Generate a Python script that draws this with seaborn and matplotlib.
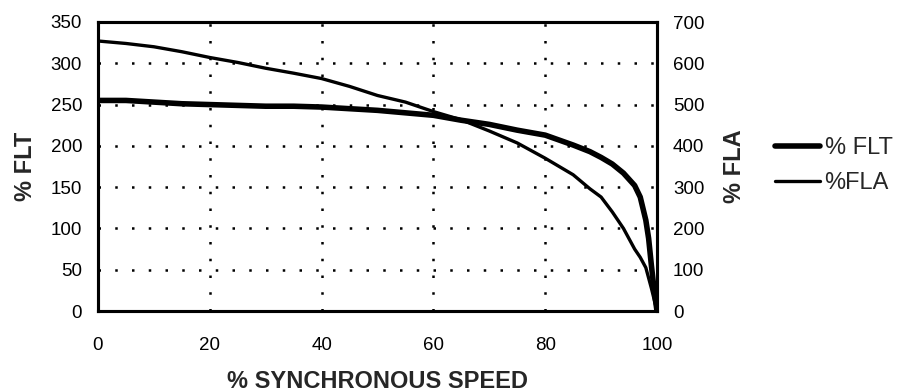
import matplotlib
matplotlib.use("Agg")
from matplotlib import pyplot as plt
from matplotlib.lines import Line2D
import seaborn as sns
import pandas as pd

# % synchronous speed
speed_flt = [0, 5, 10, 15, 20, 25, 30, 35, 40, 45, 50, 55, 60, 65, 70, 75, 80,
             85, 88, 90, 92, 94, 96, 97, 98, 98.5, 99, 99.5, 100]
flt = [255, 255, 253, 251, 250, 249, 248, 248, 247, 245, 243, 240, 237, 231, 226,
       219, 213, 201, 193, 186, 178, 167, 152, 138, 110, 88, 55, 25, 0]

speed_fla = [0, 5, 10, 15, 20, 25, 30, 35, 40, 45, 50, 55, 60, 65, 70, 75, 80,
             85, 88, 90, 92, 94, 96, 97, 98, 99, 100]
fla = [654, 648, 640, 628, 614, 602, 588, 576, 563, 544, 522, 506, 483, 463, 436,
       407, 370, 330, 296, 276, 240, 200, 150, 130, 105, 55, 0]

xticks = [0, 20, 40, 60, 80, 100]
left_ticks = [0, 50, 100, 150, 200, 250, 300, 350]
right_ticks = [0, 100, 200, 300, 400, 500, 600, 700]

sns.set_style("white")
plt.rcParams["font.family"] = ["Liberation Sans", "DejaVu Sans"]

df_flt = pd.DataFrame({"speed": speed_flt, "val": flt})
df_fla = pd.DataFrame({"speed": speed_fla, "val": fla})

fig = plt.figure(figsize=(9.03, 3.92), dpi=100)
ax = fig.add_axes([98 / 903, 1 - 311 / 392, 559 / 903, 289 / 392])
ax2 = ax.twinx()

sns.lineplot(data=df_flt, x="speed", y="val", ax=ax, color="black", lw=4,
             solid_capstyle="round", solid_joinstyle="round", zorder=5)
sns.lineplot(data=df_fla, x="speed", y="val", ax=ax2, color="black", lw=2.4,
             solid_capstyle="round", solid_joinstyle="round", zorder=5)

ax.set_xlim(0, 100)
ax.set_ylim(0, 350)
ax2.set_ylim(0, 700)
ax.set_xticks(xticks)
ax.set_yticks(left_ticks)
ax2.set_yticks(right_ticks)

grid_style = dict(color="black", lw=1.8, linestyle=(0, (1, 5.7)))
for xv in xticks[1:-1]:
    ax.axvline(xv, zorder=1, **grid_style)
for yv in left_ticks[1:-1]:
    ax.axhline(yv, zorder=1, **grid_style)

for a in (ax, ax2):
    for s in a.spines.values():
        s.set_color("black")
        s.set_linewidth(2.2)
ax.tick_params(axis="x", length=0, pad=19, labelsize=13.5, colors="black")
ax.tick_params(axis="y", length=0, pad=11.5, labelsize=13.5, colors="black")
ax2.tick_params(axis="y", length=0, pad=11.5, labelsize=13.5, colors="black")

ax.set_xlabel("% SYNCHRONOUS SPEED", fontsize=17, fontweight="bold", labelpad=11)
ax.set_ylabel("% FLT", fontsize=17, fontweight="bold", labelpad=9.5)
ax2.set_ylabel("% FLA", fontsize=17, fontweight="bold", labelpad=13)

handles = [Line2D([], [], color="black", lw=4, solid_capstyle="round"),
           Line2D([], [], color="black", lw=2.4, solid_capstyle="round")]
fig.legend(handles, ["% FLT", "%FLA"], loc="center left",
           bbox_to_anchor=(775 / 903, 1 - 165.5 / 392), bbox_transform=fig.transFigure,
           frameon=False, fontsize=17, handlelength=1.9, handletextpad=0.2,
           labelspacing=0.55, borderpad=0, borderaxespad=0)

fig.savefig("out.png", dpi=100)
